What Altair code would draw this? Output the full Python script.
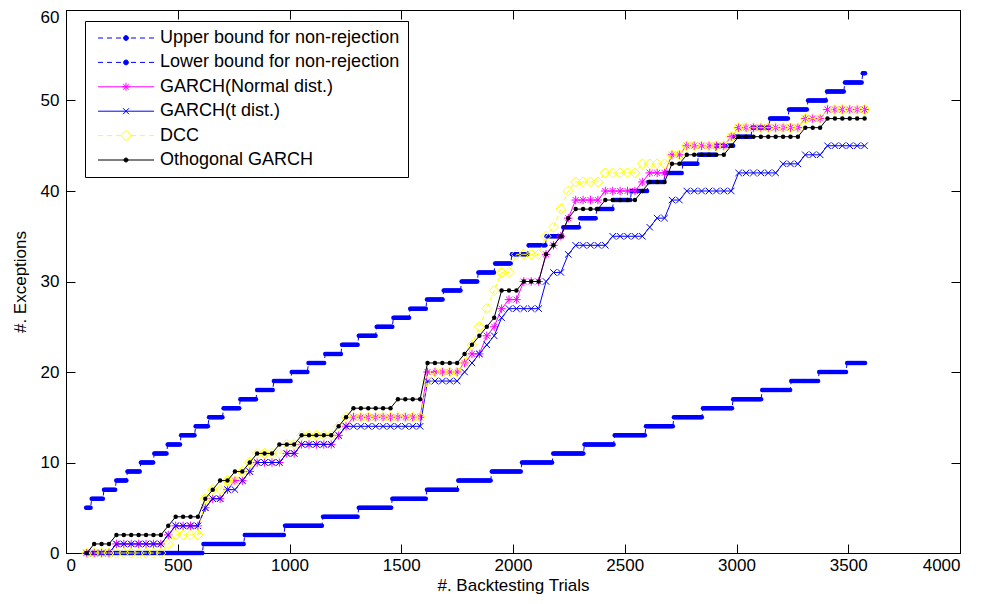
import numpy as np
import pandas as pd
import altair as alt

# backtesting trial grid at which the four models were sampled (marker positions)
trials = np.linspace(93, 3573, 106)
# the two bounds are given for every 5th trial
bound_trials = np.arange(90, 3576, 5)

labels = ["Upper bound for non-rejection", "Lower bound for non-rejection",
          "GARCH(Normal dist.)", "GARCH(t dist.)", "DCC", "Othogonal GARCH"]

# Each series is a cumulative count: a starting value plus the trials at which it rises by one
upper_base = 5
upper_rises = [115, 168, 222, 275, 332, 392, 452, 512, 578, 638, 705, 778, 854, 930, 1006,
               1082, 1158, 1234, 1310, 1386, 1462, 1538, 1614, 1690, 1766, 1842, 1918, 1994,
               2070, 2146, 2222, 2298, 2374, 2450, 2526, 2602, 2680, 2756, 2830, 2910, 2990,
               3070, 3150, 3232, 3320, 3405, 3485, 3562]
lower_base = 0
lower_rises = [613, 800, 980, 1148, 1307, 1460, 1615, 1752, 1905, 2040, 2180, 2320, 2452,
               2592, 2718, 2847, 2985, 3115, 3245, 3370, 3495]
normal_rises = [205, 445, 465, 600, 610, 625, 690, 745, 805, 835, 955, 1045, 1200, 1235, 1260,
                1590, 1600, 1605, 1610, 1615, 1765, 1800, 1850, 1865, 1900, 1935, 1945, 1950,
                2035, 2040, 2120, 2125, 2130, 2180, 2190, 2220, 2235, 2255, 2260, 2410, 2560,
                2610, 2690, 2700, 2750, 2975, 2990, 3295, 3385]
t_rises = [205, 445, 470, 610, 620, 630, 700, 760, 815, 850, 960, 1050, 1205, 1245, 1600,
           1605, 1610, 1612, 1615, 1765, 1800, 1830, 1860, 1895, 1925, 1940, 1950, 2120, 2125,
           2135, 2180, 2215, 2240, 2265, 2440, 2580, 2620, 2690, 2700, 2750, 2980, 2995, 3200,
           3290, 3380]
dcc_rises = [450, 470, 595, 605, 615, 620, 630, 700, 760, 810, 840, 960, 1050, 1205, 1240,
             1600, 1605, 1610, 1615, 1620, 1775, 1795, 1810, 1830, 1845, 1860, 1880, 1895,
             1905, 1930, 1945, 1990, 2010, 2125, 2140, 2150, 2190, 2200, 2220, 2240, 2280,
             2410, 2560, 2690, 2750, 2975, 2990, 3295, 3385]
ogarch_rises = [110, 200, 440, 460, 595, 610, 625, 685, 740, 800, 830, 950, 1040, 1195, 1230,
                1255, 1465, 1590, 1600, 1610, 1615, 1765, 1795, 1845, 1860, 1895, 1935, 1940,
                1945, 2035, 2120, 2125, 2130, 2180, 2190, 2220, 2235, 2255, 2410, 2560, 2610,
                2690, 2700, 2750, 2975, 2990, 3295, 3385]

x_ticks = list(range(0, 4001, 500))
y_ticks = list(range(0, 61, 10))


def cumulative(grid, base, rises):
    r = np.array(rises)
    return [base + int((r <= t).sum()) for t in grid]


series = [
    (labels[0], bound_trials, cumulative(bound_trials, upper_base, upper_rises)),
    (labels[1], bound_trials, cumulative(bound_trials, lower_base, lower_rises)),
    (labels[2], trials, cumulative(trials, 0, normal_rises)),
    (labels[3], trials, cumulative(trials, 0, t_rises)),
    (labels[4], trials, cumulative(trials, 0, dcc_rises)),
    (labels[5], trials, cumulative(trials, 0, ogarch_rises)),
]

FONT = "Liberation Sans"
BLUE, MAGENTA, YELLOW, BLACK = "#0000ff", "#ff00ff", "#ffff00", "#000000"

xs = alt.Scale(domain=[0, 4000], nice=False, zero=False)
ys = alt.Scale(domain=[0, 60], nice=False, zero=False)


def enc(axis_x=None, axis_y=None):
    return dict(x=alt.X("trial:Q", scale=xs, axis=axis_x),
                y=alt.Y("count:Q", scale=ys, axis=axis_y))


ASTERISK = "M-1,0L1,0M0,-1L0,1M-0.7,-0.7L0.7,0.7M-0.7,0.7L0.7,-0.7"
XMARK = "M-1,-1L1,1M-1,1L1,-1"

styles = {
    labels[0]: dict(color=BLUE, dash=[4, 3], kind="dot", size=20),
    labels[1]: dict(color=BLUE, dash=[4, 3], kind="dot", size=20),
    labels[2]: dict(color=MAGENTA, dash=None, kind=ASTERISK, size=72),
    labels[3]: dict(color=BLUE, dash=None, kind=XMARK, size=42),
    labels[4]: dict(color=YELLOW, dash=[4, 3], kind="diamond", size=100),
    labels[5]: dict(color=BLACK, dash=None, kind="dot", size=20),
}

layers = []
for name, grid, vals in series:
    df = pd.DataFrame({"trial": grid, "count": vals})
    st = styles[name]
    line_kw = dict(color=st["color"], strokeWidth=1)
    if st["dash"]:
        line_kw["strokeDash"] = st["dash"]
    layers.append(alt.Chart(df).mark_line(**line_kw).encode(**enc()))
    if st["kind"] == "dot":
        pts = alt.Chart(df).mark_circle(color=st["color"], size=st["size"], opacity=1)
    else:
        pts = alt.Chart(df).mark_point(shape=st["kind"], filled=False, color=st["color"],
                                       size=st["size"], strokeWidth=1, opacity=1)
    layers.append(pts.encode(**enc()))

# axes: bottom/left with labels, top/right as plain box sides; ticks point inwards
empty = pd.DataFrame({"trial": [0.0], "count": [0.0]})
inward = alt.ExprRef(expr="-9")
ax_bottom = alt.Axis(orient="bottom", values=x_ticks, tickSize=inward, labelPadding=13,
                     format="d", title="#. Backtesting Trials", titlePadding=4, grid=False,
                     offset=0)
ax_left = alt.Axis(orient="left", values=y_ticks, tickSize=inward, labelPadding=16,
                   format="d", title="#. Exceptions", titlePadding=11, grid=False, offset=0,
                   labelOffset=alt.condition("datum.value == 60", alt.value(7), alt.value(0)))
ax_top = alt.Axis(orient="top", values=x_ticks, tickSize=inward, labels=False, title=None,
                  grid=False, offset=0)
ax_right = alt.Axis(orient="right", values=y_ticks, tickSize=inward, labels=False, title=None,
                    grid=False, offset=0)
axes1 = alt.Chart(empty).mark_point(opacity=0).encode(**enc(ax_bottom, ax_left))
axes2 = alt.Chart(empty).mark_point(opacity=0).encode(**enc(ax_top, ax_right))

# legend symbols (line segment + marker), drawn only in the legend
DASH = "M-7,0L-5.75,0M-4.75,0L-3.5,0M-2.5,0L-1.25,0M1.25,0L2.5,0M3.5,0L4.75,0M5.75,0L7,0"
DOT = "M-0.6,0A0.6,0.6,0,1,1,0.6,0A0.6,0.6,0,1,1,-0.6,0Z"
SOLID = "M-7,0L7,0"
leg_paths = [
    DASH + DOT,
    DASH + DOT,
    SOLID + ASTERISK,
    SOLID + "M-0.75,-0.75L0.75,0.75M-0.75,0.75L0.75,-0.75",
    DASH + "M0,-1.3L1.3,0L0,1.3L-1.3,0Z",
    SOLID + "M-0.5,0A0.5,0.5,0,1,1,0.5,0A0.5,0.5,0,1,1,-0.5,0Z",
]
leg_stroke = [BLUE, BLUE, MAGENTA, BLUE, YELLOW, BLACK]
leg_fill = [BLUE, BLUE, "transparent", "transparent", "transparent", BLACK]

legend = alt.Legend(orient="none", legendX=19, legendY=11, title=None, padding=8,
                    strokeColor="black", fillColor="white", labelFont=FONT, labelFontSize=18,
                    labelColor="black", labelLimit=0, symbolSize=64, symbolStrokeWidth=1,
                    symbolOffset=24, labelOffset=25, rowPadding=6.4, cornerRadius=0,
                    symbolOpacity=1)
leg_df = pd.DataFrame({"label": labels})
leg_layer = alt.Chart(leg_df).mark_point(opacity=1, size=64).encode(
    shape=alt.Shape("label:N", scale=alt.Scale(domain=labels, range=leg_paths), legend=legend),
    stroke=alt.Stroke("label:N", scale=alt.Scale(domain=labels, range=leg_stroke), legend=legend),
    fill=alt.Fill("label:N", scale=alt.Scale(domain=labels, range=leg_fill), legend=legend),
).transform_filter("false")

chart = alt.layer(axes1, axes2, *layers, leg_layer).resolve_axis(
    x="independent", y="independent"
).properties(
    width=894, height=543,
    autosize=alt.AutoSizeParams(type="none"),
    padding={"left": 58, "top": 2, "right": 15, "bottom": 43},
    background="white",
).configure_view(stroke="black", strokeWidth=1).configure_axis(
    labelFont=FONT, labelFontSize=17, labelColor="black", titleFont=FONT, titleFontSize=17,
    titleFontWeight="normal", titleColor="black", domainColor="black", tickColor="black",
    domainWidth=1, tickWidth=1,
)

chart.save("out.html", embed_options={"renderer": "svg", "actions": False})
